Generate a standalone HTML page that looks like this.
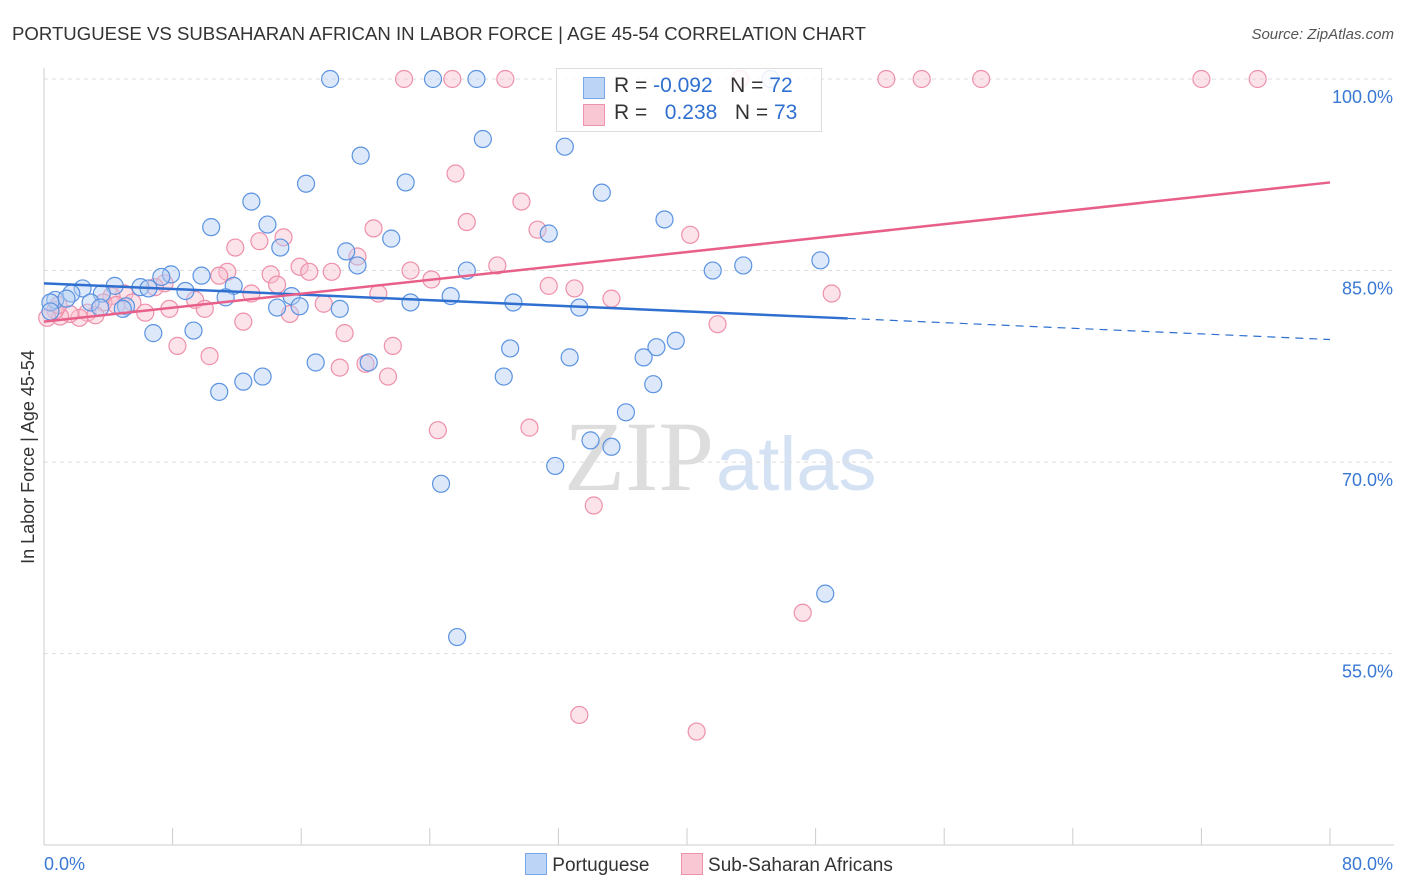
<!DOCTYPE html>
<html><head><meta charset="utf-8"><style>
body{margin:0;background:#fff;font-family:"Liberation Sans",sans-serif}
#w{position:relative;width:1406px;height:892px;overflow:hidden}
</style></head><body><div id="w">
<svg id="s" width="1406" height="892" xmlns="http://www.w3.org/2000/svg">
<text x="12" y="40" font-size="18" fill="#333" textLength="854" lengthAdjust="spacingAndGlyphs">PORTUGUESE VS SUBSAHARAN AFRICAN IN LABOR FORCE | AGE 45-54 CORRELATION CHART</text>
<text x="1394" y="39" font-size="15" fill="#555" font-style="italic" text-anchor="end">Source: ZipAtlas.com</text>
<text x="714" y="490" font-size="100" fill="#ddd" text-anchor="end" font-family="Liberation Serif">ZIP</text>
<text x="716" y="490" font-size="76" fill="#d4e2f4">atlas</text>
<text transform="translate(34,457) rotate(-90)" font-size="18" fill="#333" text-anchor="middle">In Labor Force | Age 45-54</text>
<g id="grid"></g><g id="pts"></g><g id="lines"></g>
</svg>
<div style="position:absolute;left:556px;top:68px;width:264px;height:62px;border:1px solid #ddd;background:rgba(255,255,255,0.85);font-size:21px;color:#333;white-space:nowrap">
<div style="position:absolute;left:26px;top:8px;width:20px;height:20px;background:#bcd4f5;border:1px solid #7aa7e6"></div>
<div style="position:absolute;left:57px;top:5px">R = <span style="color:#2f6fd0">-0.092</span>&nbsp;&nbsp; N = <span style="color:#2f6fd0">72</span></div>
<div style="position:absolute;left:26px;top:35px;width:20px;height:20px;background:#f9c6d4;border:1px solid #ee93ad"></div>
<div style="position:absolute;left:57px;top:32px">R = &nbsp;&nbsp;<span style="color:#2f6fd0">0.238</span>&nbsp;&nbsp; N = <span style="color:#2f6fd0">73</span></div>
</div>
<div style="position:absolute;left:525px;top:853px;font-size:19px;color:#333">
<span style="display:inline-block;width:20px;height:20px;background:#bcd4f5;border:1px solid #7aa7e6;vertical-align:-4px"></span> <span>Portuguese</span>
<span style="display:inline-block;width:20px;height:20px;background:#f9c6d4;border:1px solid #ee93ad;vertical-align:-4px;margin-left:26px"></span> <span>Sub-Saharan Africans</span>
</div>
</div>
<script>
const blueX=[17.8,24.2,26.9,45.2,27.3,32.4,19.7,34.7,16.3,22.5,12.9,10.4,13.9,38.6,31.4,21.6,14.7,18.8,19.5,26.3,41.6,43.5,48.3,7.9,7.3,9.8,4.4,6.0,2.4,11.8,8.8,6.5,1.7,3.6,0.7,1.4,2.9,5.1,4.9,3.5,0.4,11.3,15.4,25.3,22.8,29.2,14.5,15.9,18.4,33.3,6.8,9.3,29.0,38.1,39.3,32.7,37.3,16.9,20.2,13.6,12.4,10.9,28.6,37.9,36.2,34.0,35.3,31.8,24.7,48.6,25.7,0.4];
const blueY=[100,100,100,100,95.3,94.7,94.0,91.1,91.8,91.9,90.4,88.4,88.6,89.0,87.9,87.5,86.8,86.5,85.4,85.0,85.0,85.4,85.8,84.7,84.5,84.6,83.8,83.7,83.6,83.8,83.4,83.6,83.2,83.2,82.7,82.8,82.5,82.2,82.0,82.1,82.5,82.9,83.0,83.0,82.5,82.5,82.1,82.2,82.0,82.1,80.1,80.3,78.9,79.0,79.5,78.2,78.2,77.8,77.8,76.7,76.3,75.5,76.7,76.1,73.9,71.7,71.2,69.7,68.3,59.7,56.3,81.8];
const pinkX=[22.4,25.4,28.7,43.3,52.4,54.6,58.3,72.0,75.5,25.6,29.7,26.3,20.5,30.7,40.2,14.9,13.4,11.9,19.5,15.9,22.8,28.2,11.4,10.9,14.1,16.5,17.9,24.1,31.4,33.0,35.3,49.0,12.9,20.8,14.5,7.5,5.0,9.4,6.9,4.2,5.5,3.7,17.4,10.0,15.3,7.8,6.3,12.4,2.7,2.2,1.6,3.2,1.0,0.7,0.2,18.7,41.9,8.3,21.7,10.3,18.4,20.0,21.4,24.5,30.2,34.2,47.2,33.3,40.6,0.9,4.5];
const pinkY=[100,100,100,100,100,100,100,100,100,92.6,90.4,88.8,88.3,88.2,87.8,87.6,87.3,86.8,86.1,85.3,85.0,85.4,84.9,84.6,84.7,84.9,84.9,84.3,83.8,83.6,82.8,83.2,83.2,83.2,83.9,84.0,83.2,82.7,83.7,83.0,82.5,82.5,82.4,82.0,81.6,82.0,81.7,81.0,81.7,81.3,81.6,81.5,81.4,81.9,81.3,80.1,80.8,79.1,79.1,78.3,77.4,77.7,76.7,72.5,72.7,66.6,58.2,50.2,48.9,82.3,82.3];
const yTicks=[100,85,70,55];
const yTickLabels=["100.0%","85.0%","70.0%","55.0%"];
const xTicks=[0,8,16,24,32,40,48,56,64,72,80];
const blueTrend=[84.0,79.6]; const blueSolidEnd=50;
const pinkTrend=[81.0,91.9];
const X=v=>44+v/80*1286, Y=v=>79+(100-v)*12.77;
const NS="http://www.w3.org/2000/svg";
function mk(t,a,p){const e=document.createElementNS(NS,t);for(const k in a)e.setAttribute(k,a[k]);p.appendChild(e);return e;}
const g=document.getElementById('grid'),pts=document.getElementById('pts'),ln=document.getElementById('lines');
yTicks.forEach((v,i)=>{const l=mk('line',{x1:44,x2:1394,y1:Y(v),y2:Y(v),stroke:'#ddd','stroke-dasharray':'4,4'},g);


const t=mk('text',{x:1393,y:Y(v)+24,'font-size':18,fill:'#3a78d4','text-anchor':'end'},g);t.textContent=yTickLabels[i];

});
const ax=mk('line',{x1:44,x2:44,y1:68,y2:845,stroke:'#ccc'},g);


const bx=mk('line',{x1:44,x2:1394,y1:845,y2:845,stroke:'#ccc'},g);


xTicks.forEach(v=>{const l=mk('line',{x1:X(v),x2:X(v),y1:828,y2:845,stroke:'#ccc'},g);

});
const xl=mk('text',{x:44,y:870,'font-size':18,fill:'#3a78d4'},g);xl.textContent='0.0%';


const xr=mk('text',{x:1393,y:870,'font-size':18,fill:'#3a78d4','text-anchor':'end'},g);xr.textContent='80.0%';


function dots(xs,ys,fill,st,name){xs.forEach((x,i)=>{const c=mk('circle',{cx:X(x),cy:Y(ys[i]),r:8.5,fill:fill,stroke:st,'stroke-width':1.2},pts);

});}
dots(pinkX,pinkY,'rgba(249,190,206,0.45)','#ee90aa','point-subsaharan');
dots(blueX,blueY,'rgba(180,206,244,0.45)','#5b93e0','point-portuguese');
const yb=x=>blueTrend[0]+(blueTrend[1]-blueTrend[0])*x/80;
const b1=mk('line',{x1:X(0),y1:Y(yb(0)),x2:X(blueSolidEnd),y2:Y(yb(blueSolidEnd)),stroke:'#2f6fd0','stroke-width':2.5},ln);


const b2=mk('line',{x1:X(blueSolidEnd),y1:Y(yb(blueSolidEnd)),x2:X(80),y2:Y(yb(80)),stroke:'#2f6fd0','stroke-width':1.2,'stroke-dasharray':'8,6'},ln);


const p1=mk('line',{x1:X(0),y1:Y(pinkTrend[0]),x2:X(80),y2:Y(pinkTrend[1]),stroke:'#e8608a','stroke-width':2.5},ln);


</script></body></html>
